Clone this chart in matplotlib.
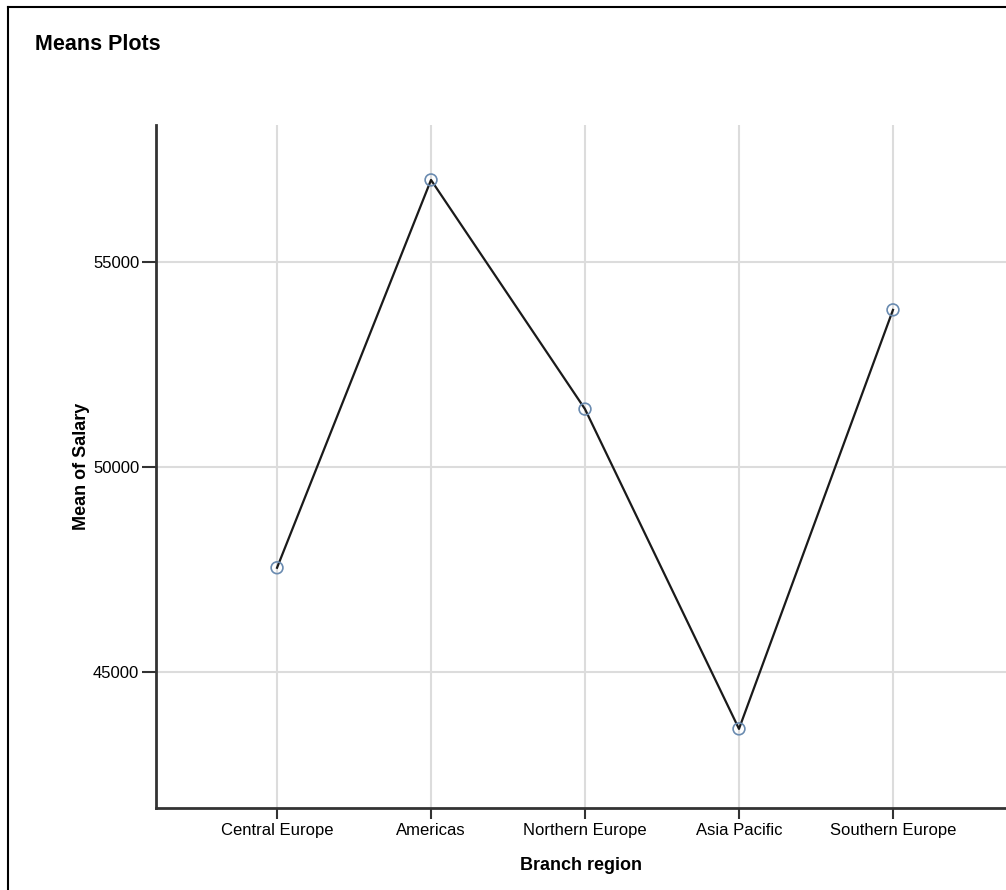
import matplotlib
matplotlib.use("Agg")
import matplotlib.pyplot as plt
from matplotlib.lines import Line2D

plt.rcParams['font.family'] = ['Liberation Sans', 'DejaVu Sans']

# データ
regions = ["Central Europe", "Americas", "Northern Europe", "Asia Pacific", "Southern Europe"]
mean_salary = [47540, 57000, 51410, 43610, 53830]
y_ticks = [45000, 50000, 55000]

W, H = 1006, 890
fig = plt.figure(figsize=(W / 100, H / 100), dpi=100)

# 軸の位置 (ピクセル基準)
left, right, top, bottom = 156, 1006, 125, 808
ax = fig.add_axes([left / W, 1 - bottom / H, (right - left) / W, (bottom - top) / H])

x = list(range(len(regions)))
ax.plot(x, mean_salary, color="#1a1a1a", lw=1.6, zorder=3)
ax.scatter(x, mean_salary, s=72, facecolors="none", edgecolors="#6a8bb0", lw=1.2, zorder=4)

ax.set_xlim(-0.786, 4.734)
ax.set_ylim(41680, 58340)
ax.set_xticks(x)
ax.set_xticklabels(regions, fontsize=12)
ax.set_yticks(y_ticks)
ax.set_yticklabels([str(v) for v in y_ticks], fontsize=12)

ax.grid(True, color="#dcdcdc", lw=1.5, zorder=0)
ax.set_axisbelow(True)
for s in ["top", "right"]:
    ax.spines[s].set_visible(False)
for s in ["left", "bottom"]:
    ax.spines[s].set_color("#333333")
    ax.spines[s].set_linewidth(2)
ax.tick_params(axis="x", length=8, width=1.5, color="#333333", pad=3)
ax.tick_params(axis="y", length=10, width=1.5, color="#333333", pad=2)

ax.set_xlabel("Branch region", fontsize=13, fontweight="bold", labelpad=13.5)
ax.set_ylabel("Mean of Salary", fontsize=13, fontweight="bold", labelpad=2)

# タイトルと枠線
fig.text(35 / W, 1 - 45 / H, "Means Plots", fontsize=15.5, fontweight="bold", va="center", ha="left")
fig.add_artist(Line2D([8 / W, 1], [1 - 7 / H, 1 - 7 / H], color="black", lw=1.5))
fig.add_artist(Line2D([8 / W, 8 / W], [0, 1 - 7 / H], color="black", lw=1.5))

fig.savefig("out.png", dpi=100)
